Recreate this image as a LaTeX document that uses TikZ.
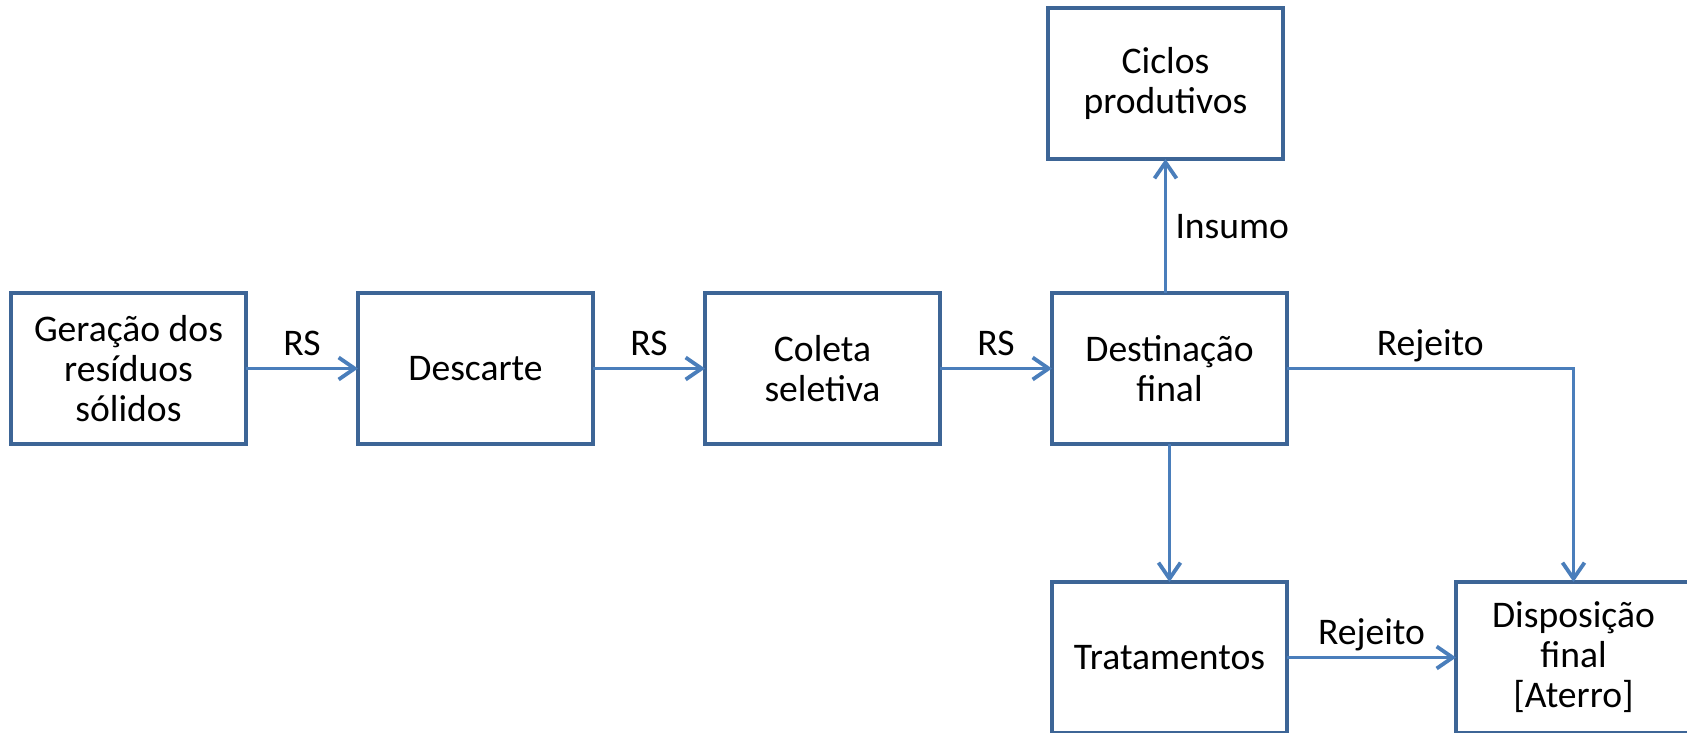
\documentclass[tikz,border=0pt]{standalone}
\usepackage{fontspec}
\setmainfont{Carlito}
\usetikzlibrary{positioning, arrows.meta}
\definecolor{boxline}{HTML}{3D6596}
\definecolor{arrline}{HTML}{4A7EBB}

\begin{document}
\begin{tikzpicture}[x=0.5pt,y=-0.5pt,every node/.style={inner sep=0,outer sep=0},
    caixa/.style={draw=boxline,line width=1.9pt,minimum width=117.5pt,minimum height=75.5pt,
                  align=center,font=\fontsize{18.8}{20}\selectfont,fill=white},
    seta/.style={draw=arrline,line width=1.9pt,-{Straight Barb[length=8pt,width=11pt]}},
    rot/.style={font=\fontsize{18.8}{20}\selectfont,text depth=0pt}]
      \useasboundingbox (0,0) rectangle (1687,733);

      \node(ger)[caixa] at (128.5,368.5){Geração dos\\resíduos\\sólidos};
      \node(desc)[caixa,right=56pt of ger]{Descarte};
      \node(col)[caixa,right=56pt of desc]{Coleta\\seletiva};
      \node(dest)[caixa,right=56pt of col]{Destinação\\final};
      \node(cic)[caixa,above=67pt of dest,xshift=-2pt]{Ciclos\\produtivos};
      \node(trat)[caixa,below=69pt of dest]{Tratamentos};
      \node(disp)[caixa,right=84.5pt of trat]{Disposição\\final\\{[Aterro]}};

      \draw[seta](ger)--(desc) node[rot,midway,above=6.5pt]{RS};
      \draw[seta](desc)--(col) node[rot,midway,above=6.5pt]{RS};
      \draw[seta](col)--(dest) node[rot,midway,above=6.5pt]{RS};
      \draw[seta](dest.north -| cic)--(cic) node[rot,midway,right=5pt]{Insumo};
      \draw[seta](dest)--(trat);
      \draw[seta](dest.east)-|(disp.north) node[rot,pos=0.25,above=6.5pt]{Rejeito};
      \draw[seta](trat)--(disp) node[rot,midway,above=6.5pt]{Rejeito};
    \end{tikzpicture}
\end{document}
